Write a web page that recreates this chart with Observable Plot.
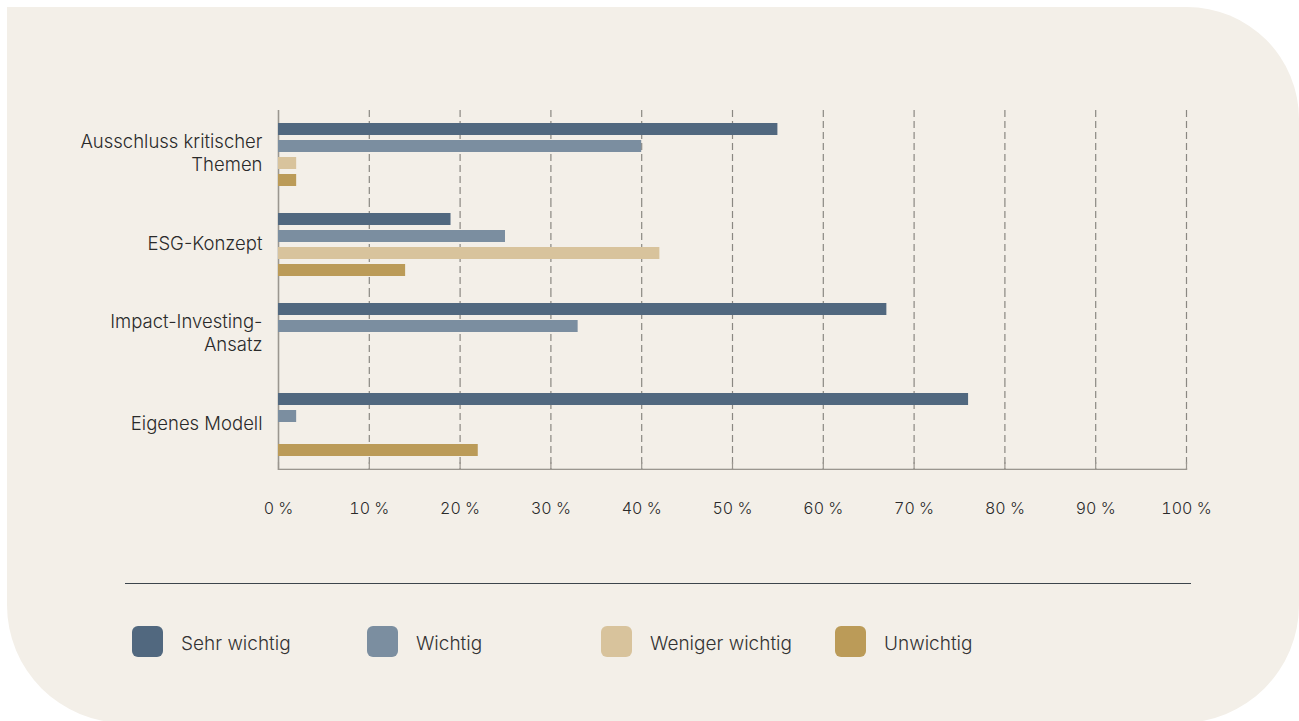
<!DOCTYPE html>
<html>
<head>
<meta charset="utf-8">
<script src="https://cdn.jsdelivr.net/npm/d3@7"></script>
<script src="https://cdn.jsdelivr.net/npm/@observablehq/plot@0.6"></script>
<style>
  html, body { margin: 0; padding: 0; background: #ffffff; width: 1299px; height: 721px; overflow: hidden; }
  #panel { position: absolute; left: 7px; top: 7px; width: 1292px; height: 716px; background: #f3efe8;
           border-radius: 0 112px 118px 118px; }
  #chart { position: absolute; left: 0; top: 0; }
  #rule { position: absolute; left: 125px; top: 583px; width: 1066px; height: 0; border-top: 1.3px solid #3c454c; }
  #legend { position: absolute; left: 0; top: 626px; width: 1299px; height: 31px; font-family: Inter, sans-serif; font-weight: 300; }
  .item { position: absolute; top: 0; height: 31px; display: flex; align-items: center; }
  .sw { width: 31px; height: 31px; border-radius: 6px; }
  .lab { margin-left: 18px; font-size: 19px; color: #333; position: relative; top: 2px; }
</style>
</head>
<body>
<div id="panel"></div>
<div id="chart"></div>
<div id="rule"></div>
<div id="legend"></div>
<script>
const categories = ["Ausschluss kritischer\nThemen", "ESG-Konzept", "Impact-Investing-\nAnsatz", "Eigenes Modell"];
const series = ["Sehr wichtig", "Wichtig", "Weniger wichtig", "Unwichtig"];
const sehrWichtig = [55, 19, 67, 76];
const wichtig = [40, 25, 33, 2];
const wenigerWichtig = [2, 42, 0, 0];
const unwichtig = [2, 14, 0, 22];
const colors = ["#51687f", "#7b8ea0", "#d8c39c", "#bb9b58"];
const xTicks = [0, 10, 20, 30, 40, 50, 60, 70, 80, 90, 100];

const seriesValues = [sehrWichtig, wichtig, wenigerWichtig, unwichtig];
const data = [];
categories.forEach((c, i) => series.forEach((s, j) => data.push({cat: c, series: s, value: seriesValues[j][i]})));
const lastCat = categories[categories.length - 1];

const chart = Plot.plot({
  width: 1299,
  height: 540,
  marginLeft: 278,
  marginRight: 113,
  marginTop: 110,
  marginBottom: 70,
  style: {background: "transparent", fontFamily: "Inter, sans-serif", fontSize: "16px", fontWeight: 300, color: "#2a2a2a"},
  x: {domain: [0, 100]},
  y: {domain: series, axis: null, paddingInner: 5 / 18, paddingOuter: 0.64},
  fy: {domain: categories, padding: 0},
  color: {domain: series, range: colors},
  marks: [
    Plot.ruleX(xTicks.slice(1), {x: d => d, stroke: "#8a8882", strokeWidth: 1.2, strokeDasharray: "7,4"}),
    Plot.ruleX(xTicks.map(t => ({t, cat: lastCat})), {x: "t", fy: "cat", insetTop: 82, stroke: "#9a968f", strokeWidth: 1.2}),
    Plot.barX([{cat: lastCat}], {x1: 0, x2: 100, fy: "cat", insetTop: 88.7, fill: "#9a968f"}),
    Plot.ruleX([0], {stroke: "#9a968f", strokeWidth: 1.6}),
    Plot.barX(data, {x: "value", y: "series", fy: "cat", fill: "series"}),
    Plot.axisX(xTicks, {anchor: "bottom", tickSize: 0, tickPadding: 32, tickFormat: d => `${d} %`, fill: "#2a2a2a", fontSize: 16, label: null}),
    Plot.axisFy({anchor: "left", tickSize: 0, tickPadding: 16, fontSize: 18.5, lineHeight: 1.25, dy: -3, fill: "#2a2a2a", label: null})
  ]
});
document.getElementById("chart").appendChild(chart);

const legend = document.getElementById("legend");
const legendX = [132, 367, 601, 835];
series.forEach((s, i) => {
  const item = document.createElement("div");
  item.className = "item";
  item.style.left = legendX[i] + "px";
  const sw = document.createElement("div");
  sw.className = "sw";
  sw.style.background = colors[i];
  const lab = document.createElement("div");
  lab.className = "lab";
  lab.textContent = s;
  item.appendChild(sw);
  item.appendChild(lab);
  legend.appendChild(item);
});
</script>
</body>
</html>
